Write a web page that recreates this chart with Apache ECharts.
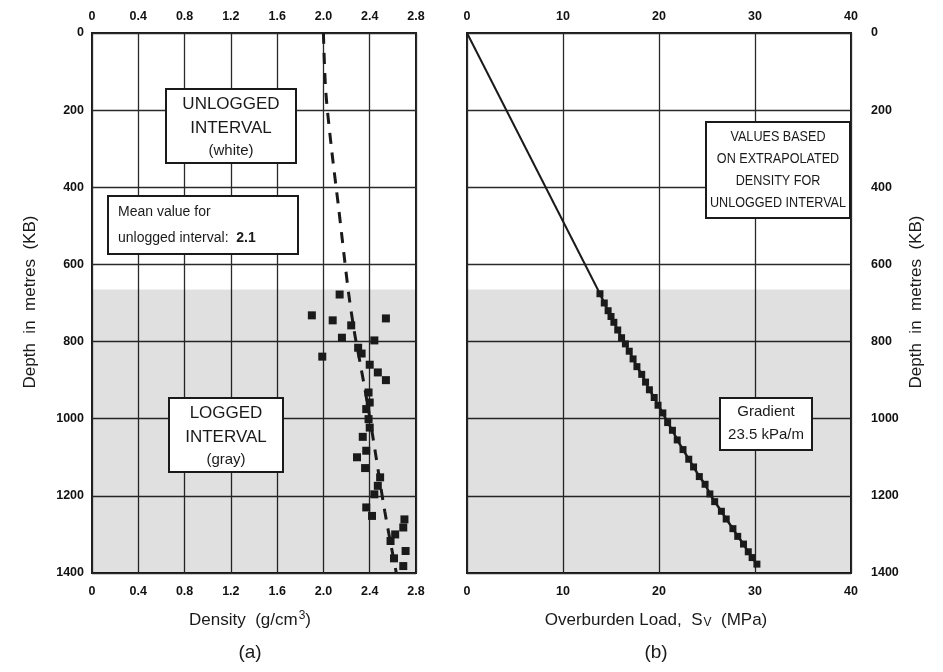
<!DOCTYPE html>
<html>
<head>
<meta charset="utf-8">
<script src="https://cdn.jsdelivr.net/npm/echarts@6/dist/echarts.min.js"></script>
<style>html,body{margin:0;padding:0;background:#fff}#c{width:943px;height:672px}</style>
</head>
<body>
<div id="c"></div>
<script>
// ---- tick labels ----
const densityTicks = ['0','0.4','0.8','1.2','1.6','2.0','2.4','2.8'];
const loadTicks = ['0','10','20','30','40'];
const depthTicks = ['0','200','400','600','800','1000','1200','1400'];

// ---- panel (a): logged density points (depth m, density g/cm3) ----
const logDepth   = [678,732,745,740,758,790,797,816,839,831,860,880,900,932,958,975,1001,1023,1047,1083,1100,1128,1152,1174,1196,1230,1252,1261,1282,1300,1317,1343,1362,1382];
const logDensity = [2.14,1.90,2.08,2.54,2.24,2.16,2.44,2.30,1.99,2.33,2.40,2.47,2.54,2.39,2.40,2.37,2.39,2.40,2.34,2.37,2.29,2.36,2.49,2.47,2.44,2.37,2.42,2.70,2.69,2.62,2.58,2.71,2.61,2.69];

// ---- panel (a): extrapolated density trend (dashed) ----
const trendDepth   = [0,150,300,450,580,680,780,860,960,1090,1240,1400];
const trendDensity = [2.00,2.02,2.07,2.13,2.18,2.22,2.27,2.32,2.38,2.45,2.53,2.63];

// ---- panel (b): overburden load ----
const unloggedDepth = [0,676];
const unloggedLoad  = [0,13.85];
const loadDepth = [676,700,720,735,750,770,790,806,825,845,865,885,905,925,945,965,985,1010,1030,1055,1080,1105,1125,1150,1170,1195,1215,1240,1260,1285,1305,1325,1345,1360,1377];
const loadValue = [13.85,14.3,14.7,15.0,15.3,15.7,16.1,16.5,16.9,17.3,17.7,18.2,18.6,19.0,19.5,19.9,20.4,20.9,21.4,21.9,22.5,23.1,23.6,24.2,24.8,25.3,25.8,26.5,27.0,27.7,28.2,28.8,29.3,29.7,30.2];

const loggedTop = 665;

const FONT = '"Liberation Sans", Arial, Helvetica, sans-serif';
const INK = '#1a1a1a';
const zip = (ys, xs) => ys.map((y, i) => [xs[i], y]);

const chart = echarts.init(document.getElementById('c'), null, {renderer: 'canvas'});

const splitLine = {show: true, lineStyle: {color: '#2a2a2a', width: 1.3}};
const lbl = {color: '#111', fontFamily: FONT, fontSize: 12.5, fontWeight: 'bold'};

function densityFmt(v){ return densityTicks[Math.round(v / 0.4)] ?? ''; }
function loadFmt(v){ return loadTicks[Math.round(v / 10)] ?? ''; }
function depthFmt(v){ return depthTicks[Math.round(v / 200)] ?? ''; }

const shade = {
  silent: true,
  itemStyle: {color: 'rgba(0,0,0,0.12)'},
  data: [[{yAxis: loggedTop}, {yAxis: 1400}]]
};

function box(x, y, w, h){
  return {type: 'rect', shape: {x, y, width: w, height: h}, style: {fill: '#fff', stroke: INK, lineWidth: 2}, z: 100};
}
function txt(x, y, text, size, extra){
  return Object.assign({type: 'text', x, y, z: 101, style: {text, fill: INK, font: `${size}px ${FONT}`, textAlign: 'center', textVerticalAlign: 'middle'}}, extra || {});
}
const cond = {scaleX: 0.9, originX: 0, originY: 0};

const option = {
  backgroundColor: '#fff',
  animation: false,
  grid: [
    {left: 92, top: 33, width: 324, height: 540, show: true, borderColor: INK, borderWidth: 2, backgroundColor: 'transparent'},
    {left: 467, top: 33, width: 384, height: 540, show: true, borderColor: INK, borderWidth: 2, backgroundColor: 'transparent'}
  ],
  xAxis: [
    {gridIndex: 0, type: 'value', min: 0, max: 2.8, interval: 0.4, position: 'bottom',
     axisLine: {show: false}, axisTick: {show: false}, splitLine,
     axisLabel: Object.assign({formatter: densityFmt, margin: 12}, lbl)},
    {gridIndex: 0, type: 'value', min: 0, max: 2.8, interval: 0.4, position: 'top',
     axisLine: {show: false}, axisTick: {show: false}, splitLine: {show: false},
     axisLabel: Object.assign({formatter: densityFmt, margin: 10}, lbl)},
    {gridIndex: 1, type: 'value', min: 0, max: 40, interval: 10, position: 'bottom',
     axisLine: {show: false}, axisTick: {show: false}, splitLine,
     axisLabel: Object.assign({formatter: loadFmt, margin: 12}, lbl)},
    {gridIndex: 1, type: 'value', min: 0, max: 40, interval: 10, position: 'top',
     axisLine: {show: false}, axisTick: {show: false}, splitLine: {show: false},
     axisLabel: Object.assign({formatter: loadFmt, margin: 10}, lbl)}
  ],
  yAxis: [
    {gridIndex: 0, type: 'value', min: 0, max: 1400, interval: 200, inverse: true, position: 'left',
     axisLine: {show: false}, axisTick: {show: false}, splitLine,
     axisLabel: Object.assign({formatter: depthFmt, margin: 8}, lbl)},
    {gridIndex: 1, type: 'value', min: 0, max: 1400, interval: 200, inverse: true, position: 'right',
     axisLine: {show: false}, axisTick: {show: false}, splitLine,
     axisLabel: Object.assign({formatter: depthFmt, margin: 20}, lbl)}
  ],
  series: [
    {type: 'line', xAxisIndex: 0, yAxisIndex: 0, data: zip(trendDepth, trendDensity),
     symbol: 'none', smooth: 0.3, lineStyle: {color: INK, width: 3, type: [11, 9]}, markArea: shade, z: 3},
    {type: 'scatter', xAxisIndex: 0, yAxisIndex: 0, data: zip(logDepth, logDensity),
     symbol: 'rect', symbolSize: 8, itemStyle: {color: INK, opacity: 1}, z: 4},
    {type: 'line', xAxisIndex: 2, yAxisIndex: 1, data: zip(unloggedDepth, unloggedLoad),
     symbol: 'none', lineStyle: {color: INK, width: 2}, markArea: shade, z: 3},
    {type: 'line', xAxisIndex: 2, yAxisIndex: 1, data: zip(loadDepth, loadValue),
     symbol: 'rect', symbolSize: 7, showAllSymbol: true, itemStyle: {color: INK, opacity: 1},
     lineStyle: {color: INK, width: 2.5}, z: 4}
  ],
  graphic: [
    // panel (a) boxes
    box(166, 89, 130, 74),
    txt(231, 104, 'UNLOGGED', 17), txt(231, 128, 'INTERVAL', 17), txt(231, 151, '(white)', 15),
    box(108, 196, 190, 58),
    {type: 'text', x: 118, y: 212, z: 101, style: {text: 'Mean value for', fill: INK, font: `14px ${FONT}`, textVerticalAlign: 'middle'}},
    {type: 'text', x: 118, y: 238, z: 101, style: {text: '{n|unlogged interval:  }{b|2.1}', fill: INK, font: `14px ${FONT}`, textVerticalAlign: 'middle',
      rich: {n: {fontSize: 14, fontFamily: FONT, fill: INK}, b: {fontSize: 14, fontFamily: FONT, fontWeight: 'bold', fill: INK}}}},
    box(169, 398, 114, 74),
    txt(226, 413, 'LOGGED', 17), txt(226, 437, 'INTERVAL', 17), txt(226, 460, '(gray)', 15),
    // panel (b) boxes
    box(706, 122, 144, 96),
    txt(778, 137, 'VALUES BASED', 14, cond), txt(778, 159, 'ON EXTRAPOLATED', 14, cond),
    txt(778, 181, 'DENSITY FOR', 14, cond), txt(778, 203, 'UNLOGGED INTERVAL', 14, cond),
    box(720, 398, 92, 52),
    txt(766, 412, 'Gradient', 15), txt(766, 435, '23.5 kPa/m', 15),
    // axis titles
    txt(30, 302, 'Depth  in  metres  (KB)', 17, {rotation: Math.PI / 2}),
    txt(916, 302, 'Depth  in  metres  (KB)', 17, {rotation: Math.PI / 2}),
    {type: 'text', x: 250, y: 620, z: 101, style: {text: 'Density  (g/cm{s|3})', fill: INK, font: `17px ${FONT}`, textAlign: 'center', textVerticalAlign: 'middle',
      rich: {s: {fontSize: 12, fontFamily: FONT, fill: INK, verticalAlign: 'top', padding: [0, 0, 8, 1]}}}},
    {type: 'text', x: 656, y: 620, z: 101, style: {text: 'Overburden Load,  S{s|V}  (MPa)', fill: INK, font: `17px ${FONT}`, textAlign: 'center', textVerticalAlign: 'middle',
      rich: {s: {fontSize: 12, fontFamily: FONT, fill: INK, verticalAlign: 'bottom', padding: [6, 0, 0, 1]}}}},
    txt(250, 653, '(a)', 19),
    txt(656, 653, '(b)', 19)
  ]
};
chart.setOption(option);
</script>
</body>
</html>
